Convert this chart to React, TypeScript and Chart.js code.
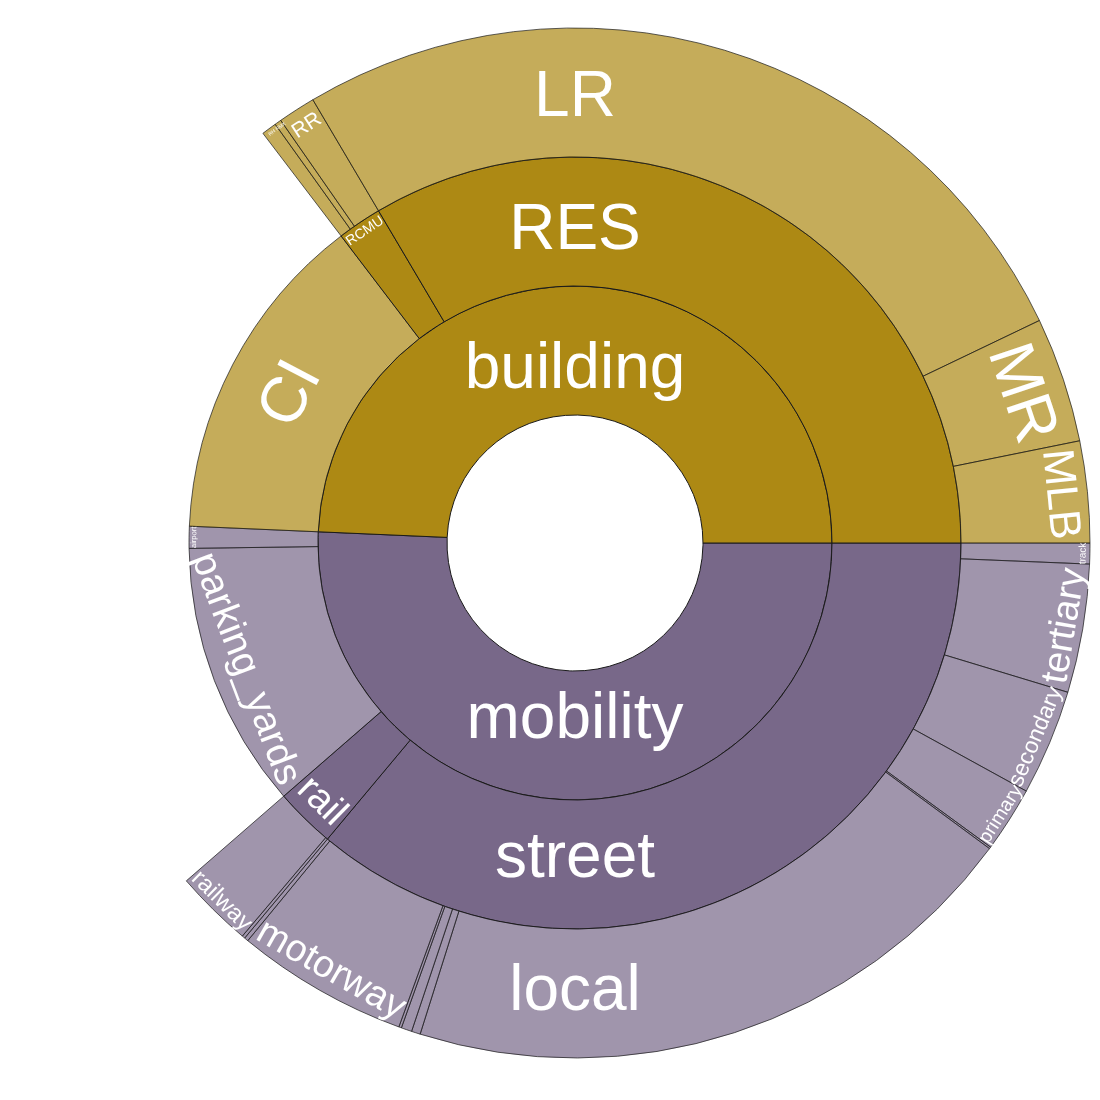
import React, { useEffect, useRef } from 'react';
import { Chart, registerables } from 'chart.js';

Chart.register(...registerables);

// Ring 1 (innermost), listed clockwise starting at 3 o'clock
const ring1Labels = ['mobility', 'building'];
const ring1Values = [182.5, 177.5];

// Ring 2
const ring2Labels = ['street', 'rail', 'parking_yards', 'airport', 'CI', 'RCMU', 'RES'];
const ring2Parents = ['mobility', 'mobility', 'mobility', 'mobility', 'building', 'building', 'building'];
const ring2Values = [129.9, 9.1, 40.2, 3.3, 50.2, 6.7, 120.6];

// Ring 3 (outermost)
const ring3Labels = [
  'track', 'tertiary', 'secondary', 'primary', 'primary_link', 'local', 'unclassified', 'service',
  'motorway_link', 'motorway', 'trunk', 'tram', 'railway', 'RH', 'RMX', 'RR', 'LR', 'MR', 'MLB',
];
const ring3Parents = [
  'street', 'street', 'street', 'street', 'street', 'street', 'street', 'street',
  'street', 'street', 'street', 'rail', 'rail', 'RCMU', 'RCMU', 'RCMU', 'RES', 'RES', 'RES',
];
const ring3Values = [
  2.35, 14.5, 11.95, 7.4, 0.2, 71.1, 1.0, 1.2,
  0.3, 19.45, 0.45, 0.34, 8.76, 1.7, 0.75, 4.25, 95.0, 14.15, 11.45,
];

const rootColors: Record<string, string> = { building: '#ad8914', mobility: '#786889' };

// label styling: font size, orientation, radial position (px from centre)
const labelStyle: Record<string, { size: number; orient: 'h' | 't'; r: number }> = {
  building: { size: 64, orient: 'h', r: 173 },
  mobility: { size: 64, orient: 'h', r: 177 },
  RES: { size: 64, orient: 'h', r: 312 },
  street: { size: 64, orient: 'h', r: 316 },
  LR: { size: 64, orient: 'h', r: 445 },
  local: { size: 64, orient: 'h', r: 449 },
  CI: { size: 64, orient: 't', r: 320 },
  RCMU: { size: 14, orient: 't', r: 376 },
  airport: { size: 7.5, orient: 't', r: 381 },
  parking_yards: { size: 39, orient: 't', r: 353 },
  rail: { size: 39, orient: 't', r: 362 },
  MR: { size: 64, orient: 't', r: 470 },
  MLB: { size: 44, orient: 't', r: 487 },
  RR: { size: 21, orient: 't', r: 496 },
  RMX: { size: 5, orient: 't', r: 510 },
  RH: { size: 5, orient: 't', r: 510 },
  railway: { size: 24, orient: 't', r: 503 },
  motorway: { size: 38, orient: 't', r: 492 },
  tertiary: { size: 38, orient: 't', r: 497 },
  secondary: { size: 23, orient: 't', r: 500 },
  primary: { size: 19.5, orient: 't', r: 505 },
  track: { size: 10, orient: 't', r: 508 },
};

function hexToRgba(hex: string, a: number) {
  const n = parseInt(hex.slice(1), 16);
  return `rgba(${(n >> 16) & 255},${(n >> 8) & 255},${n & 255},${a})`;
}

const LEAF_OPACITY = 0.7;
const LINE = '#1a1a1a';
const LINE_LEAF = 'rgba(26,26,26,0.7)';

function buildDatasets() {
  const r1Colors: string[] = [];
  const r1Borders: string[] = [];
  ring1Labels.forEach((l) => {
    const leaf = !ring2Parents.includes(l);
    r1Colors.push(leaf ? hexToRgba(rootColors[l], LEAF_OPACITY) : rootColors[l]);
    r1Borders.push(leaf ? LINE_LEAF : LINE);
  });
  const r2Colors: string[] = [];
  const r2Borders: string[] = [];
  ring2Labels.forEach((l, i) => {
    const root = ring2Parents[i];
    const leaf = !ring3Parents.includes(l);
    r2Colors.push(leaf ? hexToRgba(rootColors[root], LEAF_OPACITY) : rootColors[root]);
    r2Borders.push(leaf ? LINE_LEAF : LINE);
  });
  const r3Names: string[] = [];
  const r3Vals: number[] = [];
  const r3Colors: string[] = [];
  const r3Borders: string[] = [];
  const r3Widths: number[] = [];
  ring2Labels.forEach((p, pi) => {
    const root = ring2Parents[pi];
    const kids = ring3Labels.map((l, i) => i).filter((i) => ring3Parents[i] === p);
    if (kids.length === 0) {
      r3Names.push('');
      r3Vals.push(ring2Values[pi]);
      r3Colors.push('rgba(0,0,0,0)');
      r3Borders.push('rgba(0,0,0,0)');
      r3Widths.push(0);
    } else {
      kids.forEach((i) => {
        r3Names.push(ring3Labels[i]);
        r3Vals.push(ring3Values[i]);
        r3Colors.push(hexToRgba(rootColors[root], LEAF_OPACITY));
        r3Borders.push(LINE_LEAF);
        r3Widths.push(1);
      });
    }
  });
  return [
    { data: r3Vals, names: r3Names, backgroundColor: r3Colors, borderColor: r3Borders, borderWidth: r3Widths },
    { data: ring2Values, names: ring2Labels, backgroundColor: r2Colors, borderColor: r2Borders, borderWidth: 1 },
    { data: ring1Values, names: ring1Labels, backgroundColor: r1Colors, borderColor: r1Borders, borderWidth: 1 },
  ];
}

const TWO_PI = Math.PI * 2;
function inArc(a: number, s: number, e: number) {
  let x = a;
  while (x < s) x += TWO_PI;
  return x <= e;
}

const labelPlugin = {
  id: 'sunburstLabels',
  afterDatasetsDraw(chart: any) {
    const ctx = chart.ctx as CanvasRenderingContext2D;
    chart.data.datasets.forEach((ds: any, di: number) => {
      const meta = chart.getDatasetMeta(di);
      meta.data.forEach((arc: any, i: number) => {
        const name = ds.names[i];
        const st = name ? labelStyle[name] : undefined;
        if (!st) return;
        const { x, y, startAngle, endAngle } = arc.getProps(['x', 'y', 'startAngle', 'endAngle'], true);
        let a = (startAngle + endAngle) / 2;
        let rot = 0;
        if (st.orient === 'h') {
          if (inArc(1.5 * Math.PI, startAngle, endAngle)) a = 1.5 * Math.PI;
          else if (inArc(0.5 * Math.PI, startAngle, endAngle)) a = 0.5 * Math.PI;
        } else {
          rot = a + Math.PI / 2;
          while (rot > Math.PI / 2) rot -= Math.PI;
          while (rot < -Math.PI / 2) rot += Math.PI;
        }
        const px = x + st.r * Math.cos(a);
        const py = y + st.r * Math.sin(a);
        ctx.save();
        ctx.translate(px, py);
        ctx.rotate(rot);
        ctx.font = `${st.size}px "Liberation Sans", Arial, sans-serif`;
        ctx.fillStyle = '#ffffff';
        ctx.textAlign = 'center';
        ctx.textBaseline = 'middle';
        ctx.fillText(name, 0, 0);
        ctx.restore();
      });
    });
  },
};

export default function App() {
  const ref = useRef<HTMLCanvasElement | null>(null);
  useEffect(() => {
    if (!ref.current) return;
    const chart = new Chart(ref.current, {
      type: 'doughnut',
      data: { labels: [], datasets: buildDatasets() as any },
      options: {
        responsive: false,
        animation: false,
        events: [],
        rotation: 90,
        radius: 515,
        cutout: '24.85%',
        layout: { padding: 0 },
        plugins: { legend: { display: false }, tooltip: { enabled: false } },
      } as any,
      plugins: [labelPlugin],
    });
    return () => chart.destroy();
  }, []);
  return (
    <canvas
      ref={ref}
      width={1040}
      height={1040}
      style={{ position: 'absolute', left: 55, top: 23 }}
    />
  );
}
